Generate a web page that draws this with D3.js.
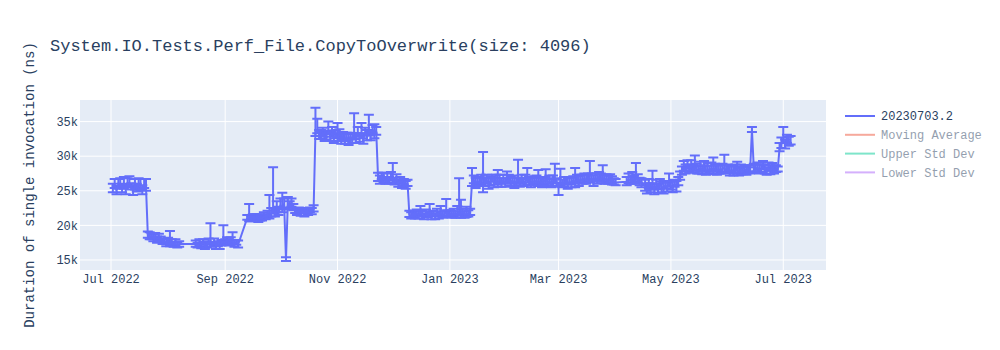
<!DOCTYPE html>
<html>
<head>
<meta charset="utf-8">
<script src="https://cdn.jsdelivr.net/npm/d3@7"></script>
<style>
  body { margin: 0; background: #fff; }
  svg { display: block; font-family: "Liberation Mono", "Courier New", monospace; }
</style>
</head>
<body>
<svg id="chart" width="1000" height="350"></svg>
<script>
// Run dates, one per benchmark run
const runDates = [
  // Jul 2022
  "2022-07-02","2022-07-03","2022-07-04","2022-07-05","2022-07-06","2022-07-07","2022-07-08","2022-07-09","2022-07-10","2022-07-11",
  "2022-07-12","2022-07-13","2022-07-14","2022-07-15","2022-07-16","2022-07-17","2022-07-18","2022-07-19","2022-07-20",
  "2022-07-21","2022-07-22","2022-07-23","2022-07-24","2022-07-25","2022-07-26","2022-07-27","2022-07-28","2022-07-29","2022-07-30","2022-07-31",
  "2022-08-01","2022-08-02","2022-08-03","2022-08-04","2022-08-05","2022-08-06","2022-08-07",
  "2022-08-16","2022-08-17","2022-08-18","2022-08-19","2022-08-20","2022-08-21","2022-08-22","2022-08-23","2022-08-24","2022-08-25",
  "2022-08-26","2022-08-27","2022-08-28","2022-08-29","2022-08-30","2022-08-31",
  "2022-09-01","2022-09-02","2022-09-03","2022-09-04","2022-09-05","2022-09-06","2022-09-07","2022-09-08",
  "2022-09-13","2022-09-14","2022-09-15","2022-09-16","2022-09-17","2022-09-18","2022-09-19","2022-09-20","2022-09-21","2022-09-22",
  "2022-09-23","2022-09-24","2022-09-25",
  "2022-09-26","2022-09-27","2022-09-28","2022-09-29","2022-09-30",
  "2022-10-01","2022-10-02","2022-10-03","2022-10-04","2022-10-05","2022-10-06","2022-10-07","2022-10-08","2022-10-09","2022-10-10",
  "2022-10-11","2022-10-12","2022-10-13","2022-10-14","2022-10-15","2022-10-16","2022-10-17","2022-10-18","2022-10-19",
  "2022-10-20","2022-10-21","2022-10-22","2022-10-23","2022-10-24","2022-10-25","2022-10-26","2022-10-27","2022-10-28","2022-10-29",
  "2022-10-30","2022-10-31",
  "2022-11-01","2022-11-02","2022-11-03","2022-11-04","2022-11-05","2022-11-06","2022-11-07","2022-11-08","2022-11-09","2022-11-10",
  "2022-11-11","2022-11-12","2022-11-13","2022-11-14","2022-11-15","2022-11-16","2022-11-17","2022-11-18","2022-11-19","2022-11-20",
  "2022-11-21","2022-11-22",
  "2022-11-23","2022-11-24","2022-11-25","2022-11-26","2022-11-27","2022-11-28","2022-11-29","2022-11-30",
  "2022-12-01","2022-12-02","2022-12-03","2022-12-04","2022-12-05","2022-12-06","2022-12-07","2022-12-08","2022-12-09",
  "2022-12-10","2022-12-11","2022-12-12","2022-12-13","2022-12-14","2022-12-15","2022-12-16","2022-12-17","2022-12-18","2022-12-19",
  "2022-12-20","2022-12-21","2022-12-22","2022-12-23","2022-12-24","2022-12-25","2022-12-26","2022-12-27","2022-12-28","2022-12-29",
  "2022-12-30","2022-12-31",
  "2023-01-01","2023-01-02","2023-01-03","2023-01-04","2023-01-05","2023-01-06","2023-01-07","2023-01-08","2023-01-09","2023-01-10",
  "2023-01-11","2023-01-12",
  "2023-01-13","2023-01-14","2023-01-15","2023-01-16","2023-01-17","2023-01-18","2023-01-19","2023-01-20","2023-01-21","2023-01-22",
  "2023-01-23","2023-01-24","2023-01-25","2023-01-26","2023-01-27","2023-01-28","2023-01-29","2023-01-30","2023-01-31",
  "2023-02-01","2023-02-02","2023-02-03","2023-02-04","2023-02-05","2023-02-06","2023-02-07","2023-02-08","2023-02-09","2023-02-10",
  "2023-02-11","2023-02-12","2023-02-13","2023-02-14","2023-02-15","2023-02-16","2023-02-17","2023-02-18","2023-02-19","2023-02-20",
  "2023-02-21","2023-02-22","2023-02-23","2023-02-24","2023-02-25","2023-02-26","2023-02-27","2023-02-28",
  "2023-03-01","2023-03-02","2023-03-03","2023-03-04","2023-03-05","2023-03-06","2023-03-07","2023-03-08","2023-03-09","2023-03-10",
  "2023-03-11","2023-03-12","2023-03-13","2023-03-14","2023-03-15","2023-03-16","2023-03-17","2023-03-18","2023-03-19","2023-03-20",
  "2023-03-21","2023-03-22","2023-03-23","2023-03-24","2023-03-25","2023-03-26","2023-03-27","2023-03-28","2023-03-29","2023-03-30",
  "2023-03-31",
  "2023-04-01",
  "2023-04-07","2023-04-08","2023-04-09","2023-04-10","2023-04-11","2023-04-12","2023-04-13","2023-04-14","2023-04-15",
  "2023-04-17","2023-04-18","2023-04-19","2023-04-20","2023-04-21","2023-04-22","2023-04-23","2023-04-24","2023-04-25","2023-04-26",
  "2023-04-27","2023-04-28","2023-04-29","2023-04-30",
  "2023-05-01","2023-05-02","2023-05-03","2023-05-04","2023-05-05","2023-05-06","2023-05-07","2023-05-08","2023-05-09","2023-05-10",
  "2023-05-11","2023-05-12","2023-05-13","2023-05-14","2023-05-15","2023-05-16","2023-05-17","2023-05-18","2023-05-19","2023-05-20",
  "2023-05-21","2023-05-22","2023-05-23","2023-05-24","2023-05-25","2023-05-26","2023-05-27","2023-05-28","2023-05-29","2023-05-30",
  "2023-05-31",
  "2023-06-01","2023-06-02","2023-06-03","2023-06-04","2023-06-05","2023-06-06","2023-06-07","2023-06-08","2023-06-09","2023-06-10",
  "2023-06-11","2023-06-12","2023-06-13","2023-06-14",
  "2023-06-15","2023-06-16","2023-06-17","2023-06-18","2023-06-19","2023-06-20","2023-06-21","2023-06-22","2023-06-23","2023-06-24",
  "2023-06-25","2023-06-26","2023-06-27","2023-06-28",
  "2023-06-29","2023-06-30","2023-07-01","2023-07-02","2023-07-03","2023-07-04","2023-07-05"
];

// Mean duration per run (ns)
const meanNs = [
  25300,25800,25100,25600,26000,25400,25700,25200,25900,26100,25500,25000,25700,25300,26000,25600,25200,25800,25500,
  18600,18300,18500,18100,18400,18000,18200,17900,17700,17600,17400,17800,17300,17500,17200,17400,17100,17300,
  17300,17100,17400,17200,17500,17000,17300,17600,17400,17200,17500,17100,17300,17000,17400,17700,17500,17900,17400,17800,17600,17300,17500,17200,
  21100,21000,20900,21200,21000,21300,20800,21100,21000,21400,21200,21500,21300,
  21800,22300,21700,22600,22000,22900,22400,23100,15100,23200,22800,23300,22600,22100,21900,22200,21800,22000,21700,22100,21900,22200,22000,22300,
  33500,33800,33200,32900,33400,32700,33100,33600,32800,33300,32600,33000,
  32800,33200,32500,32900,32400,32700,32300,32800,32500,33000,32600,33300,32700,33100,32500,33400,32900,33500,33000,33700,33200,33600,
  26900,26600,27100,26700,26400,26800,26500,26900,26600,26300,26700,26100,26400,25900,26200,25800,26100,
  21600,21300,21700,21400,21800,21500,21900,21600,21300,21700,21500,21800,21400,21600,21300,21700,21500,21800,21400,21700,21900,21500,
  21700,21400,21800,21500,21700,21900,21600,21800,21500,21700,21600,21900,
  26200,26500,26000,26400,26100,26600,27700,26200,26500,25900,26300,26700,26100,26400,26000,26600,26200,26500,26100,
  26400,26700,26200,26500,26000,26300,26600,26200,26500,26100,26400,26700,26300,26000,26400,26200,26500,26100,26400,26000,26300,26600,26200,26400,26000,26300,26500,26100,
  25600,26300,25900,26200,26400,26000,26300,26100,26500,26200,26600,26300,26700,26400,26800,26500,26900,26600,26800,26400,26900,26600,27000,26700,26900,26500,26800,26400,26700,26500,26300,
  26200,
  26300,26700,26400,26800,26500,26900,26600,26300,26100,
  25700,25400,25900,25500,25800,25300,25700,25400,25900,25600,25300,25800,25500,26000,
  25700,25400,26000,25600,26300,27200,27700,28400,28100,28600,28200,28500,28000,28400,28100,27900,28300,28000,28200,27800,28100,27900,28300,28000,28200,27800,28100,27900,28200,28300,27900,
  28100,27800,28000,27700,28100,27900,27700,28000,27800,28100,27900,28200,28000,33800,
  28300,28000,28400,27900,28200,28500,28100,27800,28300,28000,28400,27900,28200,28100,
  31200,31800,32300,31600,32500,31900,32200
];

// Upper error (ns above mean)
const errPlusNs = [
  700,900,600,1100,800,600,1300,700,900,1000,600,800,1000,700,800,1100,600,900,1200,
  500,700,400,600,500,400,600,500,400,500,600,400,1900,500,400,600,500,400,
  500,400,600,300,500,600,400,500,2900,400,600,500,400,600,500,2300,500,400,600,500,1400,500,400,600,
  400,2100,500,400,600,300,500,400,600,500,400,600,3100,
  700,6100,800,900,700,1000,2300,800,300,900,700,600,500,400,500,400,500,400,500,400,500,400,500,600,
  3500,1600,600,900,700,800,600,1400,700,900,600,800,
  2000,700,900,600,800,700,900,600,800,3200,700,900,600,1700,800,700,900,2500,700,800,1400,600,
  700,600,500,900,600,700,500,800,2400,600,700,500,600,700,500,600,500,
  500,600,400,700,500,600,900,500,400,600,500,1300,600,500,400,700,500,1000,600,500,1900,600,
  500,700,600,500,1100,4900,2100,600,500,1000,600,500,
  2100,700,900,600,800,700,2900,600,800,900,700,600,800,900,2000,700,600,800,700,
  1400,600,800,700,900,600,2900,700,800,600,900,1600,700,800,600,900,700,1900,600,800,700,1500,600,800,700,900,2400,700,
  600,1900,700,800,600,900,700,800,600,2100,700,800,600,900,700,800,600,2700,700,800,600,900,700,800,1800,700,600,800,700,600,500,
  500,
  700,800,600,900,700,2100,800,600,700,
  900,700,800,600,2100,700,900,600,800,700,900,600,700,1500,
  700,900,600,800,700,600,800,900,700,800,600,900,700,1700,800,600,900,700,1100,800,900,700,800,1800,700,900,600,800,700,1900,800,
  700,900,600,800,700,1300,600,800,700,600,700,500,400,400,
  600,800,700,900,600,800,700,600,800,700,600,800,500,400,
  700,900,1900,800,600,900,700
];

// Lower error (ns below mean)
const errMinusNs = [
  500,400,600,300,500,600,400,700,400,500,300,600,500,400,600,500,700,400,500,
  400,300,500,400,300,500,400,300,400,300,400,500,300,400,300,400,300,400,
  400,300,400,500,300,400,500,300,400,300,400,500,300,400,300,400,300,400,300,400,300,400,300,400,
  300,400,300,400,300,400,300,400,300,400,300,400,300,
  500,600,400,700,500,600,500,700,250,600,500,600,400,300,400,300,400,300,400,300,400,300,400,300,
  600,500,700,400,600,500,700,400,600,500,700,400,
  600,500,700,400,600,500,700,400,600,500,700,400,600,500,700,400,600,500,700,400,600,500,
  500,600,400,500,400,600,500,400,500,400,600,500,400,500,400,500,400,
  400,300,500,400,300,500,400,300,400,500,300,400,500,300,400,300,500,400,300,400,500,300,
  400,300,500,400,300,400,500,300,400,500,300,400,
  500,400,600,500,400,600,2900,500,400,600,500,400,600,500,400,500,600,400,500,
  400,600,500,400,600,500,400,600,500,400,600,500,400,500,600,400,500,400,600,500,400,600,500,400,500,600,400,500,
  1200,500,400,600,500,700,400,600,500,700,400,600,500,400,700,500,600,400,500,700,400,600,500,400,600,500,700,400,500,600,400,
  400,
  500,600,400,700,500,600,400,500,600,
  700,800,500,700,600,800,500,700,600,800,700,500,600,400,
  500,600,400,700,500,600,400,500,600,400,500,600,400,500,600,400,500,600,400,500,600,400,500,600,400,500,600,400,500,600,400,
  500,600,400,500,600,400,500,600,400,500,600,400,500,300,
  500,400,600,400,500,400,600,500,400,600,500,400,500,300,
  500,600,400,500,600,400,500
];

// Legend entries (the last three are legend-only traces)
const legendNames = ["20230703.2", "Moving Average", "Upper Std Dev", "Lower Std Dev"];
const legendColors = ["#636efa", "#EF553B", "#00cc96", "#ab63fa"];
const legendHidden = [false, true, true, true];

const yTicks = [15000, 20000, 25000, 30000, 35000];
const titleText = "System.IO.Tests.Perf_File.CopyToOverwrite(size: 4096)";
const yTitle = "Duration of single invocation (ns)";

const width = 1000, height = 350;
const margin = { top: 100, right: 174, bottom: 80, left: 80 };
const plotW = width - margin.left - margin.right;
const plotH = height - margin.top - margin.bottom;

const parseDate = d3.utcParse("%Y-%m-%d");
const n = Math.min(runDates.length, meanNs.length, errPlusNs.length, errMinusNs.length);
const data = d3.range(n).map((i) => ({
  date: parseDate(runDates[i]),
  value: meanNs[i],
  hi: meanNs[i] + errPlusNs[i],
  lo: meanNs[i] - errMinusNs[i],
}));

const x = d3.scaleUtc()
  .domain([new Date(Date.UTC(2022, 5, 14, 4)), new Date(Date.UTC(2023, 6, 24, 5))])
  .range([0, plotW]);
const y = d3.scaleLinear().domain([13550, 38120]).range([plotH, 0]);

const svg = d3.select("#chart");
svg.append("rect").attr("width", width).attr("height", height).attr("fill", "#fff");

const g = svg.append("g").attr("transform", `translate(${margin.left},${margin.top})`);
g.append("rect").attr("width", plotW).attr("height", plotH).attr("fill", "#e5ecf6");

svg.append("defs").append("clipPath").attr("id", "clip")
  .append("rect").attr("width", plotW).attr("height", plotH);

// Grid lines
const xTicks = x.ticks(d3.utcMonth.every(2));
g.append("g").selectAll("line").data(xTicks).join("line")
  .attr("x1", (d) => x(d)).attr("x2", (d) => x(d))
  .attr("y1", 0).attr("y2", plotH)
  .attr("stroke", "#fff").attr("stroke-width", 1);
g.append("g").selectAll("line").data(yTicks).join("line")
  .attr("x1", 0).attr("x2", plotW)
  .attr("y1", (d) => y(d)).attr("y2", (d) => y(d))
  .attr("stroke", "#fff").attr("stroke-width", 1);

// Axes labels
const fmtDate = d3.utcFormat("%b %Y");
g.append("g").selectAll("text").data(xTicks).join("text")
  .attr("x", (d) => x(d)).attr("y", plotH + 13)
  .attr("text-anchor", "middle")
  .attr("fill", "#2a3f5f").style("font-size", "12px")
  .text((d) => fmtDate(d));
g.append("g").selectAll("text").data(yTicks).join("text")
  .attr("x", -2).attr("y", (d) => y(d)).attr("dy", "0.35em")
  .attr("text-anchor", "end")
  .attr("fill", "#2a3f5f").style("font-size", "12px")
  .text((d) => d3.format("~s")(d));

// Series: error bars + line
const traceColor = legendColors[0];
const plot = g.append("g").attr("clip-path", "url(#clip)");
const capW = 5;
const eb = plot.append("g").attr("stroke", traceColor).attr("stroke-width", 2).attr("fill", "none");
eb.selectAll("path").data(data).join("path")
  .attr("d", (d) => {
    const cx = x(d.date), yh = y(d.hi), yl = y(d.lo);
    return `M${cx},${yh}V${yl}M${cx - capW},${yh}H${cx + capW}M${cx - capW},${yl}H${cx + capW}`;
  });

plot.append("path")
  .datum(data)
  .attr("fill", "none")
  .attr("stroke", traceColor)
  .attr("stroke-width", 2)
  .attr("stroke-linejoin", "round")
  .attr("d", d3.line().x((d) => x(d.date)).y((d) => y(d.value)));

// Title
svg.append("text")
  .attr("x", 50).attr("y", 51)
  .attr("fill", "#2a3f5f").style("font-size", "17px")
  .text(titleText);

// Y axis title
svg.append("text")
  .attr("transform", `translate(34,${margin.top + plotH / 2}) rotate(-90)`)
  .attr("text-anchor", "middle")
  .attr("fill", "#2a3f5f").style("font-size", "14px")
  .text(yTitle);

// Legend
const legend = svg.append("g").attr("transform", "translate(845,116)");
const items = legend.selectAll("g").data(legendNames).join("g")
  .attr("transform", (d, i) => `translate(0,${i * 18.8})`)
  .attr("opacity", (d, i) => (legendHidden[i] ? 0.5 : 1));
items.append("line")
  .attr("x1", 0).attr("x2", 30).attr("y1", 0).attr("y2", 0)
  .attr("stroke", (d, i) => legendColors[i]).attr("stroke-width", 2);
items.append("text")
  .attr("x", 36).attr("y", 0).attr("dy", "0.35em")
  .attr("fill", "#2a3f5f").style("font-size", "12px")
  .text((d) => d);
</script>
</body>
</html>
